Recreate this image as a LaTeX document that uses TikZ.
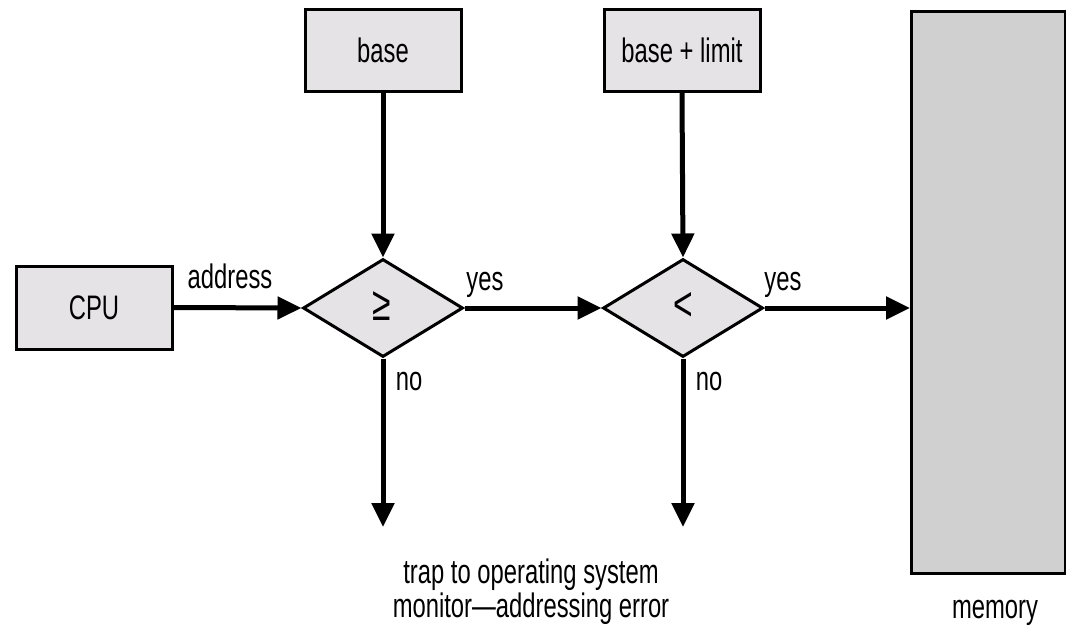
\documentclass[tikz,border=0pt]{standalone}
\usepackage{fontspec}
\setmainfont{Liberation Sans}[FakeStretch=0.70]
\usetikzlibrary{arrows.meta,shapes.geometric}
\definecolor{boxgray}{RGB}{229,227,229}
\definecolor{memgray}{RGB}{208,208,208}
\tikzset{
  regbox/.style={draw=black, fill=boxgray, line width=3pt, minimum width=156pt, minimum height=82pt, inner sep=0pt, font=\fontsize{34}{40}\selectfont},
  cmpbox/.style={diamond, draw=black, fill=boxgray, line width=3pt, aspect=1.633, minimum width=160pt, minimum height=98pt, inner sep=0pt, font=\fontsize{34}{40}\selectfont},
  flow/.style={line width=5pt, -{Triangle[length=24pt,width=22pt]}},
  lbl/.style={font=\fontsize{34}{40}\selectfont, inner sep=0pt, anchor=base},
  symb/.style={font=\fontsize{48}{50}\selectfont, inner sep=0pt},
}
\begin{document}
\begin{tikzpicture}[x=1pt,y=-1pt]
\useasboundingbox (0,0) rectangle (1066,630);
% memory
\node[draw=black, fill=memgray, line width=3pt, minimum width=154pt, minimum height=562pt, inner sep=0pt, anchor=north west] (mem) at (910,9.5) {};
\node[regbox, minimum height=83pt] (cpu) at (94,307.5) {CPU};
\node[regbox] (base) at (383,50) {base};
\node[regbox] (limit) at (682,50) {base + limit};
\node[cmpbox] (ge) at (383,308) {};
\node[cmpbox] (lt) at (683,308) {};
\node[symb] (geT) at (382,306) {≥};
\node[symb] (ltT) at (683,307) {<};
\coordinate (geEnd) at (383,527);
\coordinate (ltEnd) at (683,527);
\coordinate (memIn) at (910,308);
\draw[flow] (cpu.east) -- (ge.west);
\draw[flow] (base.south) -- (ge.north);
\draw[flow] (ge.east) -- (lt.west);
\draw[flow] (limit.south) -- (lt.north);
\draw[flow] (lt.east) -- (memIn);
\draw[flow] (ge.south) -- (geEnd);
\draw[flow] (lt.south) -- (ltEnd);
\node[lbl] (addr) at (230,288) {address};
\node[lbl] (yes1) at (485,290) {yes};
\node[lbl] (yes2) at (783,290) {yes};
\node[lbl] (no1) at (409,390) {no};
\node[lbl] (no2) at (709,390) {no};
\node[lbl] (trap1) at (531,583) {trap to operating system};
\node[lbl] (trap2) at (531,617) {monitor—addressing error};
\node[lbl] (memT) at (995,618) {memory};
\end{tikzpicture}
\end{document}
